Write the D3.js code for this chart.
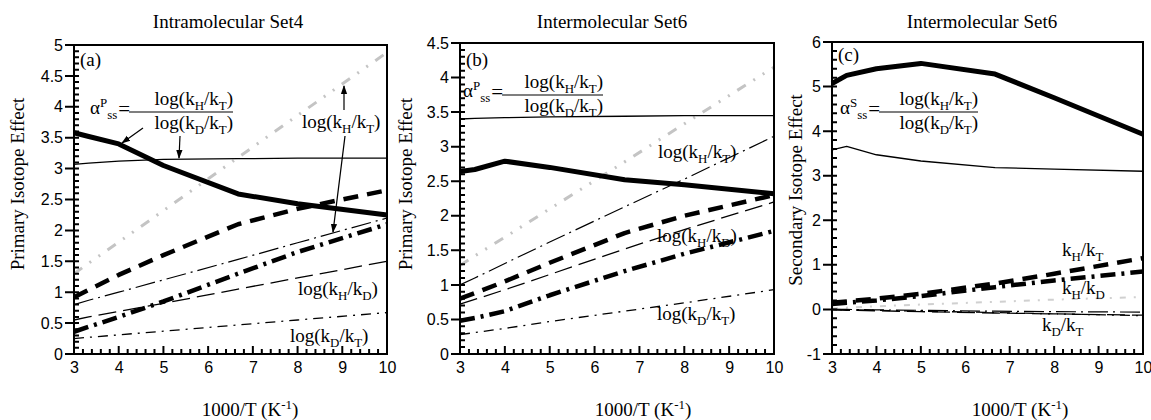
<!DOCTYPE html>
<html>
<head>
<meta charset="utf-8">
<script src="https://cdn.jsdelivr.net/npm/d3@7"></script>
<style>
  body { margin: 0; background: #fff; }
  .serif { font-family: "Liberation Serif", "Times New Roman", serif; }
  .tick text { font-family: "Liberation Sans", Arial, sans-serif; font-size: 16px; fill: #000; }
</style>
</head>
<body>
<svg id="chart" width="1151" height="420"></svg>
<script>
// 1000/T grid the curves were computed on
const temps = [3, 3.33, 4, 5, 6.67, 8, 10];

// (a) Intramolecular Set4
const aAlpha      = [3.58, 3.52, 3.40, 3.05, 2.59, 2.43, 2.25];
const aSwain      = [3.07, 3.09, 3.12, 3.15, 3.16, 3.17, 3.17];
const aGray       = [1.30, 1.47, 1.81, 2.32, 3.18, 3.86, 4.88];
const aHT         = [0.92, 1.04, 1.28, 1.60, 2.10, 2.35, 2.65];
const aHTthin     = [0.80, 0.87, 1.00, 1.20, 1.53, 1.80, 2.20];
const aHD         = [0.36, 0.44, 0.60, 0.85, 1.30, 1.65, 2.10];
const aHDthin     = [0.55, 0.60, 0.69, 0.82, 1.05, 1.23, 1.50];
const aDT         = [0.25, 0.27, 0.31, 0.37, 0.47, 0.55, 0.67];

// (b) Intermolecular Set6, primary
const bSwain      = [3.40, 3.41, 3.42, 3.43, 3.44, 3.45, 3.45];
const bAlpha      = [2.64, 2.67, 2.79, 2.70, 2.52, 2.45, 2.32];
const bGray       = [1.28, 1.42, 1.69, 2.10, 2.78, 3.33, 4.15];
const bHTthin     = [1.00, 1.10, 1.31, 1.62, 2.13, 2.53, 3.15];
const bHT         = [0.80, 0.88, 1.05, 1.32, 1.75, 2.00, 2.30];
const bHDthin     = [0.72, 0.79, 0.93, 1.15, 1.52, 1.80, 2.20];
const bHD         = [0.48, 0.52, 0.62, 0.85, 1.20, 1.45, 1.78];
const bDT         = [0.28, 0.31, 0.37, 0.47, 0.62, 0.74, 0.93];

// (c) Intermolecular Set6, secondary
const cAlpha      = [5.07, 5.25, 5.40, 5.52, 5.28, 4.75, 3.93];
const cSwain      = [3.58, 3.66, 3.47, 3.33, 3.18, 3.15, 3.10];
const cHT         = [0.15, 0.18, 0.24, 0.35, 0.58, 0.80, 1.15];
const cHD         = [0.12, 0.15, 0.20, 0.30, 0.50, 0.65, 0.85];
const cGray       = [0.02, 0.04, 0.07, 0.11, 0.17, 0.22, 0.28];
const cHTthin     = [0.00, 0.00, -0.01, -0.02, -0.04, -0.05, -0.06];
const cHDthin     = [-0.01, -0.02, -0.03, -0.05, -0.08, -0.10, -0.13];
const cDT         = [0.00, -0.01, -0.02, -0.04, -0.07, -0.10, -0.14];

// ticks
const xMajor = d3.range(3, 11, 1);
const xMinor = d3.range(3, 10.001, 0.2).filter(v => Math.abs(v - Math.round(v)) > 0.01);
const aYMajor = d3.range(0, 5.01, 0.5);
const aYMinor = d3.range(0, 5.001, 0.1);
const bYMajor = d3.range(0, 4.51, 0.5);
const bYMinor = d3.range(0, 4.501, 0.1);
const cYMajor = d3.range(-1, 6.01, 1);
const cYMinor = d3.range(-1, 6.001, 0.2);

const titles = ["Intramolecular Set4", "Intermolecular Set6", "Intermolecular Set6"];
const yTitles = ["Primary Isotope Effect", "Primary Isotope Effect", "Secondary Isotope Effect"];

const styles = {
  alpha:  { stroke: "#000", width: 5,   dash: null },
  swain:  { stroke: "#000", width: 1.3, dash: null },
  gray:   { stroke: "#c4c4c4", width: 3, dash: "10,9,2,9,2,9" },
  grayC:  { stroke: "#d0d0d0", width: 2, dash: "6,8,2,8" },
  HT:     { stroke: "#000", width: 4.5, dash: "15,9" },
  HTthin: { stroke: "#000", width: 1.2, dash: "20,5,2,5" },
  HD:     { stroke: "#000", width: 4.5, dash: "15,6,3,6" },
  HDthin: { stroke: "#000", width: 1.3, dash: "18,7" },
  DT:     { stroke: "#000", width: 1.3, dash: "10,6,2,6" }
};

const panels = [
  { left: 74, right: 387, top: 45, bottom: 354, yDomain: [0, 5], yMajor: aYMajor, yMinor: aYMinor,
    tag: "(a)", tagPos: [80, 66], sup: "P", formula: { ax: 90, x2: 233, y: 112 },
    titleX: 228, xTitleX: 250, yTitleX: 24, yTitleY: 184,
    series: { gray: aGray, swain: aSwain, alpha: aAlpha, HT: aHT, HTthin: aHTthin, HD: aHD, HDthin: aHDthin, DT: aDT },
    labels: [["log(k_H/k_T)", 302, 128], ["log(k_H/k_D)", 298, 295], ["log(k_D/k_T)", 290, 342]],
    arrows: [[143, 128, 122, 143], [180, 136, 179, 158], [344, 110, 344, 86], [345, 136, 333, 232]] },
  { left: 460, right: 774, top: 43, bottom: 354, yDomain: [0, 4.5], yMajor: bYMajor, yMinor: bYMinor,
    tag: "(b)", tagPos: [466, 66], sup: "P", formula: { ax: 463, x2: 603, y: 95 },
    titleX: 612, xTitleX: 643, yTitleX: 412, yTitleY: 184,
    series: { gray: bGray, swain: bSwain, alpha: bAlpha, HT: bHT, HTthin: bHTthin, HD: bHD, HDthin: bHDthin, DT: bDT },
    labels: [["log(k_H/k_T)", 658, 158], ["log(k_H/k_D)", 657, 242], ["log(k_D/k_T)", 657, 320]],
    arrows: [] },
  { left: 832, right: 1143, top: 42, bottom: 354, yDomain: [-1, 6], yMajor: cYMajor, yMinor: cYMinor,
    tag: "(c)", tagPos: [838, 61], sup: "S", formula: { ax: 840, x2: 978, y: 112 },
    titleX: 982, xTitleX: 1020, yTitleX: 802, yTitleY: 190,
    series: { grayC: cGray, HTthin: cHTthin, HDthin: cHDthin, DT: cDT, swain: cSwain, alpha: cAlpha, HD: cHD, HT: cHT },
    labels: [["k_H/k_T", 1062, 256], ["k_H/k_D", 1062, 294], ["k_D/k_T", 1042, 331]],
    arrows: [] }
];

const svg = d3.select("#chart");

svg.append("defs").append("marker")
    .attr("id", "head").attr("viewBox", "0 0 10 10").attr("refX", 9).attr("refY", 5)
    .attr("markerWidth", 9).attr("markerHeight", 9).attr("markerUnits", "userSpaceOnUse")
    .attr("orient", "auto")
  .append("path").attr("d", "M0,1.5 L10,5 L0,8.5 Z").attr("fill", "#000");

// text with _x / _{xx} subscripts and ^x superscripts
function rich(g, str, x, y, size, anchor) {
  const t = g.append("text").attr("class", "serif").attr("x", x).attr("y", y)
      .attr("font-size", size).attr("text-anchor", anchor || "start").attr("fill", "#000");
  const parts = str.match(/_\{[^}]*\}|_.|\^\{[^}]*\}|\^.|[^_^]+/g);
  let shift = 0;
  parts.forEach(p => {
    let kind = 0, s = p;
    if (p[0] === "_") { kind = 1; s = p.slice(1).replace(/[{}]/g, ""); }
    if (p[0] === "^") { kind = -1; s = p.slice(1).replace(/[{}]/g, ""); }
    const target = kind === 1 ? size * 0.25 : kind === -1 ? -size * 0.38 : 0;
    t.append("tspan").attr("dy", target - shift)
        .attr("font-size", kind ? size * 0.68 : size).text(s);
    shift = target;
  });
  return t;
}

panels.forEach((p, i) => {
  const g = svg.append("g");
  const x = d3.scaleLinear().domain([3, 10]).range([p.left, p.right]);
  const y = d3.scaleLinear().domain(p.yDomain).range([p.bottom, p.top]);

  const line = d3.line().x((d, j) => x(temps[j])).y(d => y(d));

  Object.entries(p.series).forEach(([key, vals]) => {
    const st = styles[key];
    g.append("path").datum(vals)
        .attr("d", line)
        .attr("fill", "none")
        .attr("stroke", st.stroke)
        .attr("stroke-width", st.width)
        .attr("stroke-dasharray", st.dash)
        .attr("stroke-linejoin", "round");
  });

  // tick marks, one path for all of them
  const tk = d3.path();
  xMinor.forEach(v => { tk.moveTo(x(v), p.bottom); tk.lineTo(x(v), p.bottom - 5); });
  xMajor.forEach(v => { tk.moveTo(x(v), p.bottom + 1); tk.lineTo(x(v), p.bottom - 8); });
  p.yMinor.forEach(v => { tk.moveTo(p.left, y(v)); tk.lineTo(p.left + 5, y(v)); });
  p.yMajor.forEach(v => { tk.moveTo(p.left - 9, y(v)); tk.lineTo(p.left + 1, y(v)); });
  g.append("path").attr("d", tk.toString())
      .attr("fill", "none").attr("stroke", "#000").attr("stroke-width", 2);

  // tick labels
  g.append("g").attr("transform", `translate(0,${p.bottom})`)
      .call(d3.axisBottom(x).tickValues(xMajor).tickSize(0).tickPadding(8).tickFormat(d => String(d)))
      .call(a => a.select(".domain").remove());
  g.append("g").attr("transform", `translate(${p.left},0)`)
      .call(d3.axisLeft(y).tickValues(p.yMajor).tickSize(0).tickPadding(11)
        .tickFormat(d => String(Math.round(d * 10) / 10)))
      .call(a => a.select(".domain").remove());

  g.append("rect")
      .attr("x", p.left).attr("y", p.top)
      .attr("width", p.right - p.left).attr("height", p.bottom - p.top)
      .attr("fill", "none").attr("stroke", "#000").attr("stroke-width", 2);

  // titles
  g.append("text").attr("class", "serif").attr("x", p.titleX).attr("y", 28)
      .attr("text-anchor", "middle").attr("font-size", 19).text(titles[i]);
  rich(g, "1000/T (K^{-1})", p.xTitleX, 416, 19, "middle");
  g.append("text").attr("class", "serif")
      .attr("transform", `translate(${p.yTitleX},${p.yTitleY}) rotate(-90)`)
      .attr("text-anchor", "middle").attr("font-size", 19).text(yTitles[i]);

  rich(g, p.tag, p.tagPos[0], p.tagPos[1], 19);

  // ratio formula
  const f = p.formula;
  const al = rich(g, "α^" + p.sup + "_{ss}", f.ax, f.y + 2, 19);
  const alEnd = f.ax + al.node().getComputedTextLength() + 1;
  const eq = g.append("text").attr("class", "serif").attr("x", alEnd).attr("y", f.y + 4)
      .attr("font-size", 21).text("=");
  const x1 = alEnd + eq.node().getComputedTextLength();
  g.append("line").attr("x1", x1 - 1).attr("x2", f.x2).attr("y1", f.y).attr("y2", f.y)
      .attr("stroke", "#000").attr("stroke-width", 1.2);
  rich(g, "log(k_H/k_T)", f.x2, f.y - 7, 19, "end");
  rich(g, "log(k_D/k_T)", f.x2, f.y + 17, 19, "end");

  p.labels.forEach(l => rich(g, l[0], l[1], l[2], 19));

  p.arrows.forEach(a => {
    g.append("line").attr("x1", a[0]).attr("y1", a[1]).attr("x2", a[2]).attr("y2", a[3])
        .attr("stroke", "#000").attr("stroke-width", 1.2).attr("marker-end", "url(#head)");
  });
});
</script>
</body>
</html>
